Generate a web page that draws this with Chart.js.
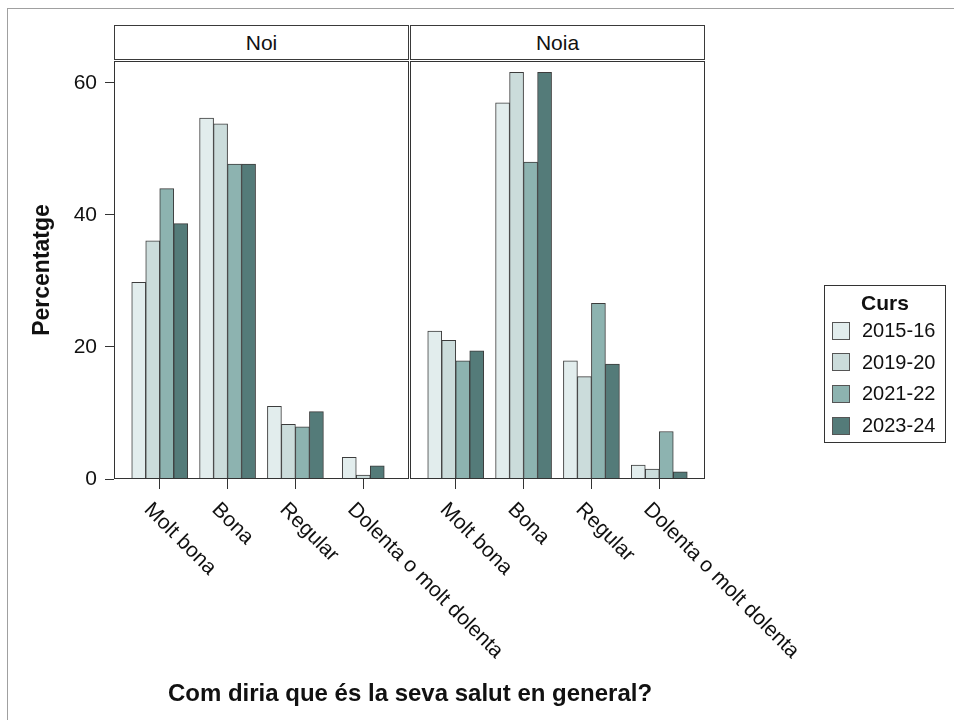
<!DOCTYPE html>
<html><head><meta charset="utf-8">
<script src="https://cdn.jsdelivr.net/npm/chart.js@4.4.1/dist/chart.umd.min.js"></script>
<style>
html,body{margin:0;padding:0;background:#fff;}
body{width:954px;height:720px;position:relative;overflow:hidden;font-family:"Liberation Sans",Arial,sans-serif;color:#111;}
#frame{position:absolute;left:7px;top:8px;width:960px;height:720px;border-top:1px solid #a0a0a0;border-left:1px solid #a0a0a0;}
.strip{position:absolute;top:25px;height:35px;width:295px;box-sizing:border-box;border:1px solid #3a3a3a;text-align:center;line-height:33px;font-size:21px;}
canvas{position:absolute;}
#xtitle{position:absolute;left:0;width:820px;top:679px;text-align:center;font-weight:bold;font-size:24px;line-height:28px;}
#legend{position:absolute;left:824px;top:285px;width:122px;height:158px;box-sizing:border-box;border:1px solid #333;}
#legend .ttl{position:absolute;left:0;right:0;top:4px;text-align:center;font-weight:bold;font-size:21px;line-height:26px;}
#legend .item{position:absolute;left:7px;height:31px;display:flex;align-items:center;font-size:20px;}
#legend .sw{width:18px;height:18px;box-sizing:border-box;border:1px solid #555;margin-right:12px;}
</style>
</head><body>
<div id="frame"></div>
<div class="strip" style="left:114px">Noi</div>
<div class="strip" style="left:410px">Noia</div>
<canvas id="c1" width="520" height="665" style="left:0;top:55px"></canvas>
<canvas id="c2" width="550" height="665" style="left:404px;top:55px"></canvas>
<div id="xtitle">Com diria que és la seva salut en general?</div>
<div id="legend"></div>
<script>
const categories = ['Molt bona', 'Bona', 'Regular', 'Dolenta o molt dolenta'];
const courses = ['2015-16', '2019-20', '2021-22', '2023-24'];
const colors = ['#E2EDED', '#CBDCDB', '#8DB3B0', '#547B79'];
// Noi (boys)
const noi2015 = [29.8, 54.7, 11.0, 3.3];
const noi2019 = [36.1, 53.8, 8.3, 0.6];
const noi2021 = [44.0, 47.7, 7.9, null];
const noi2023 = [38.7, 47.7, 10.2, 2.0];
// Noia (girls)
const noia2015 = [22.4, 57.0, 17.9, 2.1];
const noia2019 = [21.0, 61.6, 15.5, 1.5];
const noia2021 = [17.9, 48.0, 26.6, 7.2];
const noia2023 = [19.4, 61.6, 17.4, 1.1];
const yTicks = [0, 20, 40, 60];

const FONT = '"Liberation Sans", Arial, sans-serif';
const INK = '#111';

function makeDatasets(series) {
  return series.map((vals, k) => ({
    label: courses[k],
    data: vals.map((v, i) => ({x: i, y: v})),
    backgroundColor: colors[k],
    borderColor: '#3c3c3c',
    borderWidth: 1,
    barThickness: 14,
    skipNull: true
  }));
}

const panelBorder = {
  id: 'panelBorder',
  afterDraw(chart) {
    const a = chart.chartArea, ctx = chart.ctx;
    ctx.save();
    ctx.strokeStyle = '#333';
    ctx.lineWidth = 1;
    const l = Math.round(a.left), t = Math.round(a.top), r = Math.round(a.right), b = Math.round(a.bottom);
    ctx.strokeRect(l + 0.5, t + 0.5, r - l - 1, b - t - 1);
    ctx.restore();
  }
};

const xLabels = {
  id: 'xLabels',
  afterDraw(chart) {
    const sx = chart.scales.x, ctx = chart.ctx;
    ctx.save();
    ctx.font = '21px ' + FONT;
    ctx.fillStyle = INK;
    ctx.textAlign = 'left';
    ctx.textBaseline = 'top';
    categories.forEach((c, i) => {
      const x = sx.getPixelForValue(i);
      ctx.save();
      ctx.translate(x - 5, chart.chartArea.bottom + 20);
      ctx.rotate(Math.PI / 4);
      ctx.fillText(c, 0, 0);
      ctx.restore();
    });
    ctx.restore();
  }
};

function makeChart(id, series, showY, pad) {
  return new Chart(document.getElementById(id), {
    type: 'bar',
    data: {datasets: makeDatasets(series)},
    plugins: [panelBorder, xLabels],
    options: {
      responsive: false,
      animation: false,
      devicePixelRatio: 1,
      layout: {padding: pad},
      plugins: {legend: {display: false}, tooltip: {enabled: false}},
      scales: {
        x: {
          type: 'linear',
          offset: false,
          min: -0.674, max: 3.674,
          afterBuildTicks: s => { s.ticks = categories.map((c, i) => ({value: i})); },
          afterFit: s => { s.height = 241; s.paddingLeft = 0; s.paddingRight = 0; },
          ticks: {display: false},
          grid: {offset: false, drawOnChartArea: false, drawTicks: true, tickLength: 10, color: '#333'},
          border: {display: false}
        },
        y: {
          display: showY,
          min: 0, max: 63.33,
          afterBuildTicks: s => { s.ticks = yTicks.map(v => ({value: v})); },
          afterFit: s => { if (showY) s.width = 114; s.paddingTop = 0; s.paddingBottom = 0; },
          ticks: {font: {size: 21, family: FONT}, color: INK, padding: 8},
          grid: {drawOnChartArea: false, drawTicks: true, tickLength: 9, color: '#333'},
          border: {display: false},
          title: {display: true, text: 'Percentatge', color: INK, font: {size: 23, weight: 'bold', family: FONT}, padding: {top: 29, bottom: 0}}
        }
      }
    }
  });
}

makeChart('c1', [noi2015, noi2019, noi2021, noi2023], true, {top: 6, right: 111, left: 0, bottom: 0});
makeChart('c2', [noia2015, noia2019, noia2021, noia2023], false, {top: 6, right: 249, left: 6, bottom: 0});

// legend
const lg = document.getElementById('legend');
const t = document.createElement('div'); t.className = 'ttl'; t.textContent = 'Curs'; lg.appendChild(t);
courses.forEach((c, k) => {
  const it = document.createElement('div'); it.className = 'item';
  it.style.top = (29 + k * 31.7) + 'px';
  const sw = document.createElement('div'); sw.className = 'sw'; sw.style.background = colors[k];
  const tx = document.createElement('span'); tx.textContent = c;
  it.appendChild(sw); it.appendChild(tx); lg.appendChild(it);
});
</script>
</body></html>
